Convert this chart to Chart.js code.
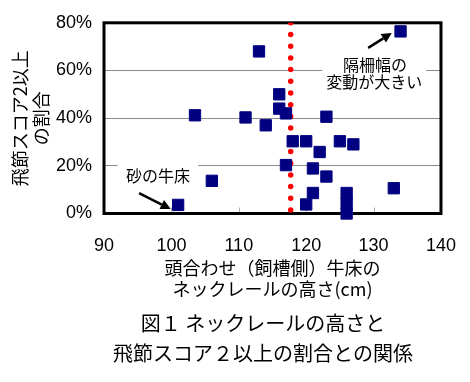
<!DOCTYPE html>
<html>
<head>
<meta charset="utf-8">
<script src="https://cdn.jsdelivr.net/npm/chart.js@4.4.1/dist/chart.umd.min.js"></script>
<style>
  body { margin: 0; background: #fff; }
</style>
</head>
<body>
<canvas id="chart" width="470" height="382"></canvas>
<script>
// Neck rail height (cm) and share of hock score >= 2 (%)
const railHeights = [101, 103.5, 106, 111, 113, 114, 116, 116, 117, 117, 118, 120, 120, 121, 121, 122, 123, 123, 125, 127, 126, 126, 126, 133, 134];
const hockShares  = [3.6, 41.2, 13.7, 40.3, 68, 37, 50, 44, 42, 20.3, 30.3, 30.3, 3.8, 18.9, 8.6, 25.8, 40.6, 15.5, 30.3, 29, 8.6, 4.3, 0, 10.6, 76.4];
const xTickValues = [90, 100, 110, 120, 130, 140];
const yTickValues = [0, 20, 40, 60, 80];
const thresholdHeight = 117.7;
const captionLines = ['図１ ネックレールの高さと', '飛節スコア２以上の割合との関係'];

const jpFont = "'Noto Sans CJK JP', sans-serif";
const numFont = "'Liberation Sans', Arial, sans-serif";

const points = railHeights.map((h, i) => ({ x: h, y: hockShares[i] }));

function arrow(ctx, x1, y1, x2, y2) {
    const ang = Math.atan2(y2 - y1, x2 - x1);
    const head = 10, half = 5;
    const bx = x2 - head * Math.cos(ang), by = y2 - head * Math.sin(ang);
    ctx.beginPath();
    ctx.moveTo(x1, y1);
    ctx.lineTo(bx, by);
    ctx.stroke();
    ctx.beginPath();
    ctx.moveTo(x2, y2);
    ctx.lineTo(bx + half * Math.sin(ang), by - half * Math.cos(ang));
    ctx.lineTo(bx - half * Math.sin(ang), by + half * Math.cos(ang));
    ctx.closePath();
    ctx.fill();
}

// labels, arrows and the frame round the plot
const overlay = {
    id: 'overlay',
    beforeDatasetsDraw(chart) {
        const { ctx, chartArea: a, scales: { x, y } } = chart;
        const px = v => x.getPixelForValue(v);
        const py = v => y.getPixelForValue(v);
        ctx.save();

        // small inner ticks on the bottom axis
        ctx.strokeStyle = '#b0b0b0';
        ctx.lineWidth = 1;
        xTickValues.slice(1, -1).forEach(v => {
            const p = Math.round(px(v)) + 0.5;
            ctx.beginPath();
            ctx.moveTo(p, a.bottom);
            ctx.lineTo(p, a.bottom - 6);
            ctx.stroke();
        });

        // white boxes behind the notes
        ctx.fillStyle = '#fff';
        ctx.fillRect(px(92), py(22), px(104) - px(92), py(9.7) - py(22));
        ctx.fillRect(px(122.4), py(67), px(137.8) - px(122.4), py(50) - py(67));

        ctx.fillStyle = '#000';
        ctx.font = '16px ' + jpFont;
        ctx.textAlign = 'center';
        ctx.textBaseline = 'middle';
        ctx.fillText('砂の牛床', px(98), py(15.9));
        ctx.fillText('隔柵幅の', px(130.2), py(62.5));
        ctx.fillText('変動が大きい', px(130.1), py(55.1));

        ctx.strokeStyle = '#000';
        ctx.lineWidth = 2.5;
        arrow(ctx, px(95.2), py(8.5), px(99.9), py(1.9));
        arrow(ctx, px(129.2), py(69.5), px(132.7), py(75.7));

        ctx.lineWidth = 3;
        ctx.strokeRect(a.left, a.top, a.right - a.left, a.bottom - a.top);
        ctx.restore();
    },
    afterDraw(chart) {
        // figure caption under the axis title
        const ctx = chart.ctx;
        ctx.save();
        ctx.fillStyle = '#000';
        ctx.font = '20px ' + jpFont;
        ctx.textAlign = 'center';
        ctx.textBaseline = 'middle';
        captionLines.forEach((t, i) => ctx.fillText(t, 263, 323 + i * 30));
        ctx.restore();
    }
};

new Chart(document.getElementById('chart'), {
    type: 'scatter',
    data: {
        datasets: [{
            data: points,
            pointStyle: 'rect',
            pointRadius: 8,
            pointHoverRadius: 8,
            backgroundColor: '#000080',
            borderColor: '#000080',
            borderWidth: 1,
            clip: false
        }, {
            type: 'line',
            data: [{ x: thresholdHeight, y: 80 }, { x: thresholdHeight, y: 0 }],
            borderColor: '#ff0000',
            borderWidth: 5.5,
            borderDash: [0, 11.7],
            borderCapStyle: 'round',
            pointRadius: 0,
            fill: false
        }]
    },
    options: {
        responsive: false,
        animation: false,
        events: [],
        layout: { padding: { top: 19.5, right: 25, left: 0, bottom: 82 } },
        plugins: {
            legend: { display: false },
            tooltip: { enabled: false }
        },
        scales: {
            x: {
                type: 'linear',
                min: 90,
                max: 140,
                afterBuildTicks: s => { s.ticks = xTickValues.map(v => ({ value: v })); },
                afterFit: s => { s.height = 86.5; },
                grid: { display: false },
                border: { display: false },
                ticks: { color: '#000', padding: 14, font: { family: numFont, size: 18 } },
                title: {
                    display: true,
                    text: ['頭合わせ（飼槽側）牛床の', 'ネックレールの高さ(cm)'],
                    color: '#000',
                    font: { family: jpFont, size: 18, lineHeight: 21 / 18 },
                    padding: { top: 0, bottom: 0.5 }
                }
            },
            y: {
                min: 0,
                max: 80,
                afterBuildTicks: s => { s.ticks = yTickValues.map(v => ({ value: v })); },
                afterFit: s => { s.width = 104; },
                grid: {
                    drawTicks: false,
                    color: c => (c.tick.value === 0 || c.tick.value === 80) ? 'rgba(0,0,0,0)' : '#8a8a8a',
                    lineWidth: 1
                },
                border: { display: false },
                ticks: {
                    color: '#000',
                    padding: 12,
                    font: { family: numFont, size: 18 },
                    callback: v => v + '%'
                },
                title: {
                    display: true,
                    text: ['飛節スコア2以上', 'の割合'],
                    color: '#000',
                    font: { family: jpFont, size: 18, lineHeight: 21 / 18 },
                    padding: { top: 9.5, bottom: 0 }
                }
            }
        }
    },
    plugins: [overlay]
});
</script>
</body>
</html>
